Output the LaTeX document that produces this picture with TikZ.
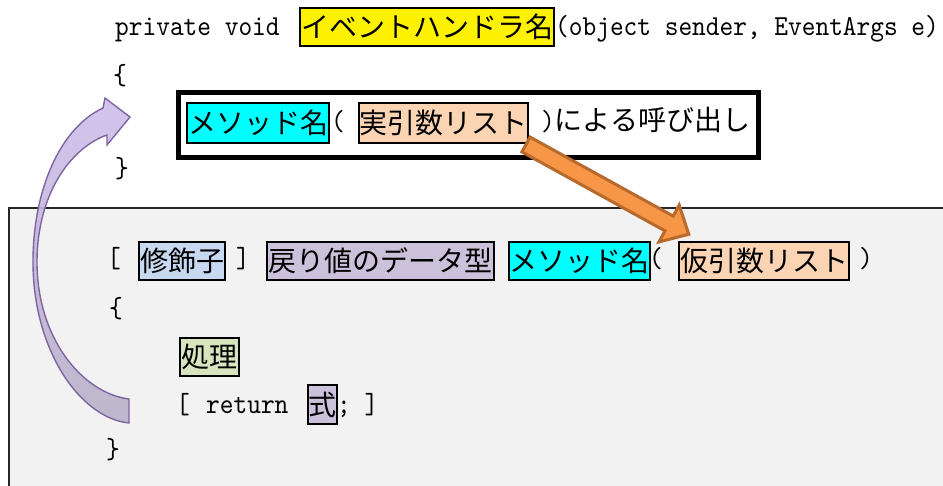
\documentclass[tikz,border=0pt]{standalone}
\usepackage{fontspec}
\newfontfamily\cjk{Noto Sans CJK JP}
\newfontfamily\lmono{lmmono10-regular.otf}[FakeStretch=0.9]
\newcommand\jp[1]{{\fontsize{28}{32}\selectfont\cjk #1}}
\definecolor{peach}{HTML}{FBD4B4}
\definecolor{aqua}{HTML}{00FFFF}
\definecolor{ltblue}{HTML}{C6D9F1}
\definecolor{lavend}{HTML}{CCC1DA}
\definecolor{ltgreen}{HTML}{D7E4BD}
\definecolor{panelgray}{HTML}{F2F2F2}
\definecolor{orfill}{HTML}{F79646}
\definecolor{ordraw}{HTML}{B8692C}
\definecolor{purtop}{HTML}{CDBDEA}
\definecolor{purbot}{HTML}{B8B1C8}
\definecolor{purdraw}{HTML}{8064A2}
\tikzset{
  lat/.style={anchor=base west, inner sep=0pt, font=\fontsize{29}{33}\selectfont\lmono},
  hbox/.style={draw=black, line width=2pt, inner sep=0pt, anchor=north west,
               font=\fontsize{28}{32}\selectfont\cjk},
}
\begin{document}
\begin{tikzpicture}[x=1pt, y=-1pt]
\useasboundingbox (0,0) rectangle (943,485);
% panel
\fill[panelgray] (9,208) rectangle (946,488);
\draw[line width=1.6pt, black!85] (9,488) -- (9,208) -- (946,208);

% line 1
\node[lat] (l1a) at (115,35) {private void};
\node[hbox, fill=yellow, minimum width=254pt, minimum height=38pt] (evh) at (299,7) {イベントハンドラ名};
\node[lat] (l1b) at (555,35) {(object sender, EventArgs e)};
\node[lat] (ob1) at (113,84) {\{};

% call box
\node[draw=black, line width=4.5pt, anchor=north west, inner sep=0pt,
      minimum width=580pt, minimum height=65pt] (call) at (176,90) {};
\node[hbox, fill=aqua, minimum width=142pt, minimum height=40pt] (m1) at (186,102) {メソッド名};
\node[lat] (p1) at (331,130) {(};
\node[hbox, fill=peach, minimum width=169pt, minimum height=40pt] (arg1) at (358,102) {実引数リスト};
\node[lat] (tl1) at (541,130) {)\jp{による呼び出し}};
\node[lat] (cb1) at (115,177) {\}};

% definition
\node[lat] (lb2) at (107,267) {[};
\node[hbox, fill=ltblue, minimum width=86pt, minimum height=38pt] (mod) at (138,241) {修飾子};
\node[lat] (rb2) at (236,267) {]};
\node[hbox, fill=lavend, minimum width=227pt, minimum height=38pt] (ret) at (266,241) {戻り値のデータ型};
\node[hbox, fill=aqua, minimum width=141pt, minimum height=38pt] (m2) at (508,241) {メソッド名};
\node[lat] (p2) at (649,267) {(};
\node[hbox, fill=peach, minimum width=170pt, minimum height=38pt] (arg2) at (678,241) {仮引数リスト};
\node[lat] (p3) at (859,267) {)};
\node[lat] (ob2) at (109,317) {\{};
\node[hbox, fill=ltgreen, minimum width=59pt, minimum height=38pt] (proc) at (179,337) {処理};
\node[lat] (lb3) at (176,413) {[};
\node[lat] (rtn) at (206,413) {return};
\node[hbox, fill=lavend, minimum width=29pt, minimum height=39pt] (expr) at (307,384) {式};
\node[lat] (sc) at (337,413) {; ]};
\node[lat] (cb2) at (106,458) {\}};

% orange block arrow (arg1 -> arg2)
\coordinate (oa1) at (530.1,137.1);
\coordinate (oa2) at (521.9,151.9);
\draw[fill=orfill, draw=ordraw, line width=3pt, line join=miter]
  (oa1) -- (673.2,216.1) -- (679.2,205.1) -- (688.8,234.3) -- (659.0,241.9)
  -- (665.0,230.9) -- (oa2) -- cycle;

% purple curved arrow (return -> call)
\coordinate (pa1) at (129,399);
\coordinate (pa2) at (130,117);
\shade[top color=purtop, bottom color=purbot, fill opacity=0.9]
  (103,108) -- (105,98) -- (pa2) -- (107,145) -- (107,135)
  .. controls (70,148) and (37,195) .. (37,262)
  .. controls (37,338) and (82,393) .. (pa1)
  -- (129,423)
  .. controls (80,418) and (33,350) .. (33,262)
  .. controls (33,190) and (60,128) .. (103,108) -- cycle;
\draw[purdraw, line width=1.4pt, line join=miter]
  (103,108) -- (105,98) -- (pa2) -- (107,145) -- (107,135)
  .. controls (70,148) and (37,195) .. (37,262)
  .. controls (37,338) and (82,393) .. (pa1)
  -- (129,423)
  .. controls (80,418) and (33,350) .. (33,262)
  .. controls (33,190) and (60,128) .. (103,108) -- cycle;
\end{tikzpicture}
\end{document}
